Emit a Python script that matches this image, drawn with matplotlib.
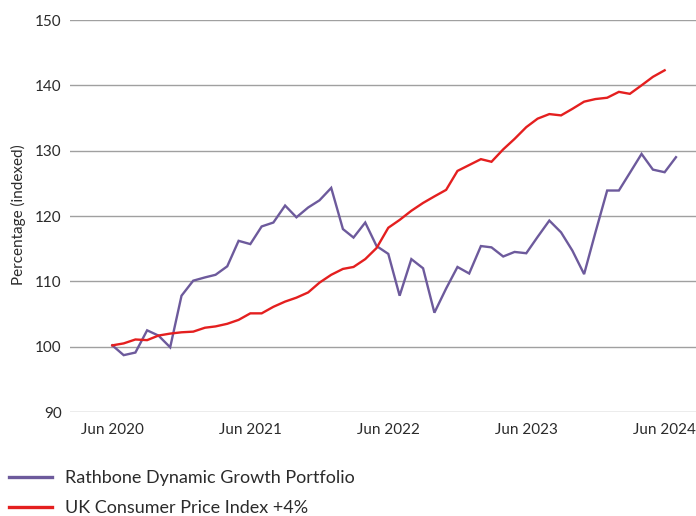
import matplotlib
matplotlib.use("Agg")
import matplotlib.pyplot as plt
import pandas as pd

# monthly index values (Jun 2020 = 100)
portfolio = [100.2, 98.7, 99.1, 102.5, 101.7, 99.9, 107.8, 110.1, 110.6, 111.0,
             112.3, 116.2, 115.7, 118.4, 119.0, 121.6, 119.8, 121.3, 122.4, 124.3,
             118.0, 116.7, 119.0, 115.4, 114.2, 107.8, 113.4, 112.0, 105.2, 108.9,
             112.2, 111.2, 115.4, 115.2, 113.8, 114.5, 114.3, 116.8, 119.3, 117.5,
             114.7, 111.1, 117.5, 123.9, 123.9, 126.6, 129.5, 127.1, 126.7, 129.0]
cpi_plus4 = [100.2, 100.5, 101.1, 101.0, 101.7, 102.0, 102.2, 102.3, 102.9, 103.1,
             103.5, 104.1, 105.1, 105.1, 106.1, 106.9, 107.5, 108.3, 109.8, 111.0,
             111.9, 112.2, 113.4, 115.1, 118.2, 119.4, 120.8, 122.0, 123.0, 124.0,
             126.9, 127.8, 128.7, 128.3, 130.2, 131.8, 133.6, 134.9, 135.6, 135.4,
             136.4, 137.5, 137.9, 138.1, 139.0, 138.7, 140.0, 141.3, 142.3]

months_p = pd.date_range("2020-06-01", periods=len(portfolio), freq="MS")
months_c = pd.date_range("2020-06-01", periods=len(cpi_plus4), freq="MS")
tick_dates = pd.to_datetime(["2020-06-01", "2021-06-01", "2022-06-01", "2023-06-01", "2024-06-01"])
tick_labels = ["Jun 2020", "Jun 2021", "Jun 2022", "Jun 2023", "Jun 2024"]
y_ticks = [90, 100, 110, 120, 130, 140, 150]

purple = "#6d5a9c"
red = "#e41f1f"
text_col = "#2b2b2b"

plt.rcParams["font.family"] = ["Lato", "DejaVu Sans"]

fig = plt.figure(figsize=(6.96, 5.16), dpi=100)
ax = fig.add_axes([70 / 696, 104 / 516, 626 / 696, 392 / 516])

ax.plot(months_p, portfolio, color=purple, lw=1.7, label="Rathbone Dynamic Growth Portfolio",
        solid_joinstyle="miter", zorder=3)
ax.plot(months_c, cpi_plus4, color=red, lw=1.7, label="UK Consumer Price Index +4%",
        solid_joinstyle="miter", zorder=3)

ax.set_ylim(90, 150)
ax.set_yticks(y_ticks)
ax.set_xlim(months_p[0] - pd.Timedelta(days=112), months_p[-1] + pd.Timedelta(days=53))
ax.set_xticks(tick_dates)
ax.set_xticklabels(tick_labels)

ax.grid(axis="y", color="#a0a0a0", lw=1.0)
ax.set_axisbelow(True)
for s in ax.spines.values():
    s.set_visible(False)
ax.tick_params(axis="both", length=0, labelsize=11, colors=text_col)
ax.tick_params(axis="y", pad=6)
ax.tick_params(axis="x", pad=8)

fig.text(18 / 696, 1 - 215 / 516, "Percentage (indexed)", rotation=90, ha="center", va="center",
         fontsize=11, color=text_col)

leg = fig.legend(loc="upper left", bbox_to_anchor=(9 / 696, 1 - 470 / 516), frameon=False,
                 fontsize=13, handlelength=2.4, handletextpad=0.72, labelspacing=0.77,
                 borderpad=0, borderaxespad=0, labelcolor=text_col)
for h in leg.get_lines():
    h.set_linewidth(2.4)

fig.savefig("out.png", dpi=100)
